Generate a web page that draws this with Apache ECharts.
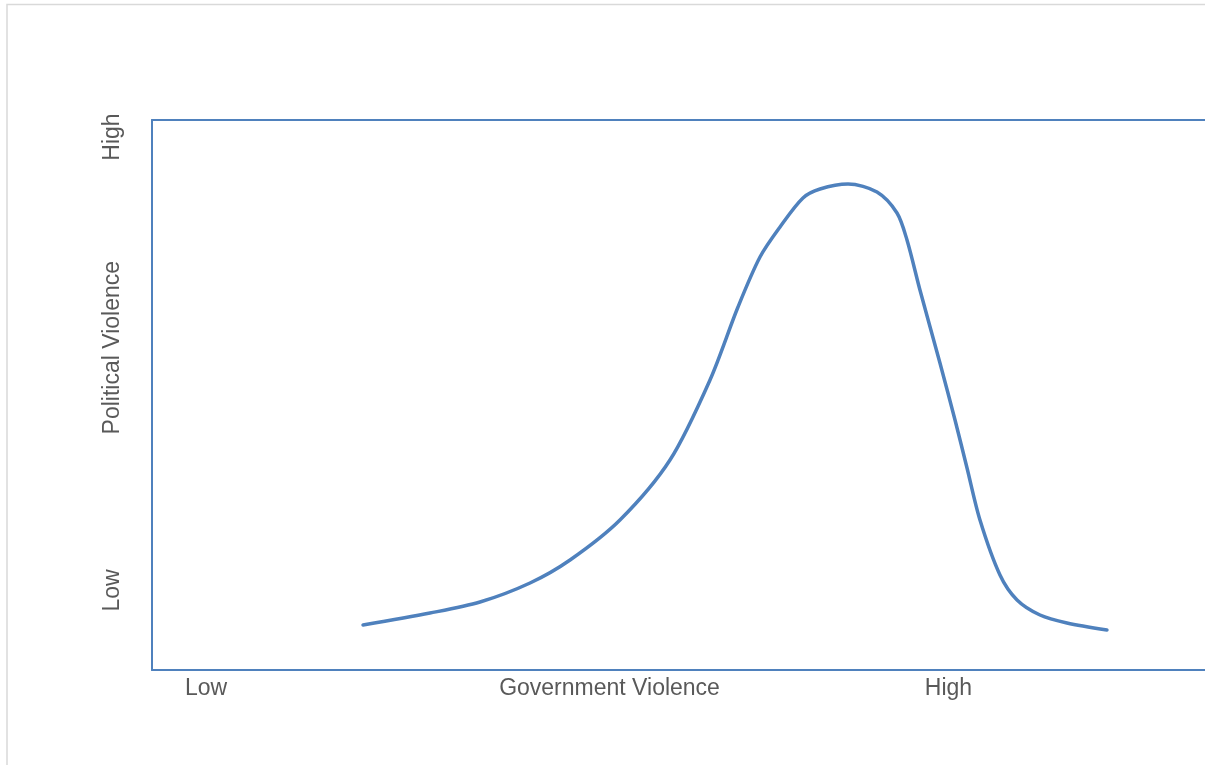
<!DOCTYPE html>
<html>
<head>
<meta charset="utf-8">
<script src="https://cdn.jsdelivr.net/npm/echarts@6/dist/echarts.min.js"></script>
<style>html,body{margin:0;padding:0;background:#fff;}#chart{width:1205px;height:765px;}</style>
</head>
<body>
<div id="chart"></div>
<script>
// Data (arbitrary 0-100 scales)
var govViolence = [20.04, 26.40, 31.15, 35.90, 39.70, 44.44, 49.19, 52.99, 55.65, 57.74, 59.64, 61.82, 63.44, 66.10, 68.85, 70.75, 71.70, 72.93, 74.83, 76.26, 77.40, 78.63, 80.53, 82.15, 84.33, 86.89, 90.69];
var politicalViolence = [8.18, 10.36, 12.36, 15.82, 20.0, 27.27, 38.18, 52.73, 66.0, 75.09, 80.55, 85.82, 87.45, 88.36, 86.91, 83.09, 78.18, 69.09, 55.82, 45.45, 36.73, 27.27, 17.27, 12.73, 10.0, 8.55, 7.27];
var xTickValues = [5.13, 43.45, 75.64];
var xTickLabels = ['Low', 'Government Violence', 'High'];
var yTickValues = [14.45, 58.6, 96.9];
var yTickLabels = ['Low', 'Political Violence', 'High'];

var pts = govViolence.map(function (x, i) { return [x, politicalViolence[i]]; });
function lab(values, labels) {
  return function (v) {
    for (var i = 0; i < values.length; i++) if (Math.abs(values[i] - v) < 1e-6) return labels[i];
    return '';
  };
}
var frameLine = { show: true, lineStyle: { color: '#4F81BD', width: 2 } };
var chart = echarts.init(document.getElementById('chart'));
chart.setOption({
  animation: false,
  graphic: [{
    type: 'rect', z: -1,
    shape: { x: 7, y: 4.5, width: 1400, height: 1000 },
    style: { fill: 'none', stroke: '#d9d9d9', lineWidth: 1.5 }
  }],
  grid: { left: 152, right: 0, top: 120, bottom: 95 },
  xAxis: [{
    type: 'value', min: 0, max: 100, position: 'bottom',
    axisLine: frameLine,
    axisTick: { show: false },
    splitLine: { show: false },
    axisLabel: {
      customValues: xTickValues,
      formatter: lab(xTickValues, xTickLabels),
      color: '#595959', fontFamily: 'Liberation Sans', fontSize: 23, margin: 7
    }
  }, {
    type: 'value', min: 0, max: 100, position: 'top',
    axisLine: frameLine,
    axisTick: { show: false },
    splitLine: { show: false },
    axisLabel: { show: false }
  }],
  yAxis: {
    type: 'value', min: 0, max: 100,
    axisLine: frameLine,
    axisTick: { show: false },
    splitLine: { show: false },
    axisLabel: {
      customValues: yTickValues,
      formatter: lab(yTickValues, yTickLabels),
      rotate: 90,
      color: '#595959', fontFamily: 'Liberation Sans', fontSize: 23, margin: 28
    }
  },
  series: [{
    type: 'line',
    data: pts,
    smooth: 0.3,
    symbol: 'none',
    lineStyle: { color: '#4F81BD', width: 3.5, cap: 'round', join: 'round' }
  }]
});
</script>
</body>
</html>
